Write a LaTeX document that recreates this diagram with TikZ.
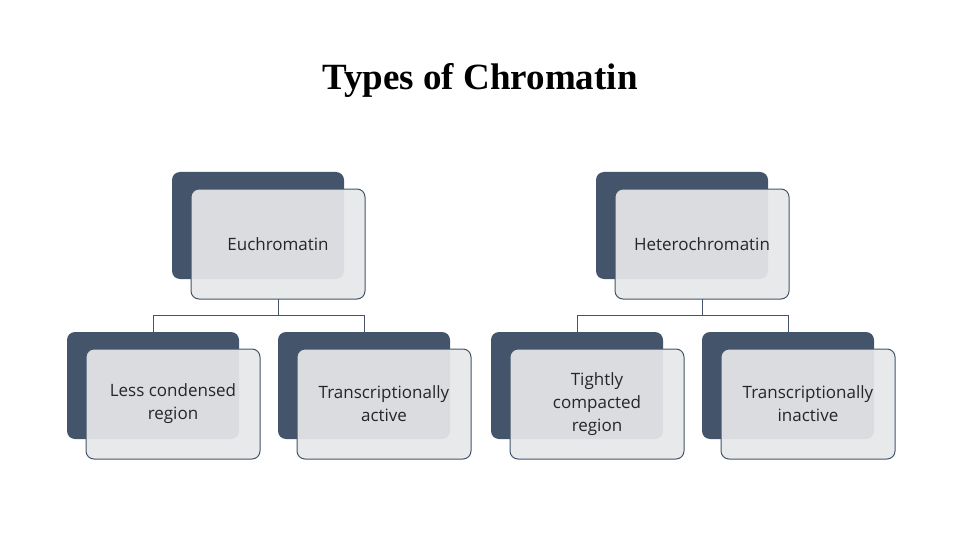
\documentclass[tikz,border=0pt]{standalone}
\usepackage{fontspec}
\setmainfont{Liberation Serif}
\newfontfamily\boxfont{Open Sans}
\definecolor{dk}{HTML}{44546A}
\definecolor{lt}{HTML}{E6E7E9}
\begin{document}
\begin{tikzpicture}[x=1pt,y=-1pt,
 back/.style={fill=dk,rounded corners=8pt},
 front/.style={fill=lt,fill opacity=0.93,draw=dk,line width=1pt,rounded corners=8pt},
 lbl/.style={font=\boxfont\fontsize{17}{23}\selectfont,text=black!85,align=center},
 conn/.style={draw=dk,line width=1pt}]
\useasboundingbox (0,0) rectangle (960,540);
\node[font=\bfseries\fontsize{37}{40}\selectfont] (title) at (480,80) {Types of Chromatin};
\newcommand\cbox[5]{% name, backx, backy, text
 \fill[back] (#2,#3) rectangle ++(172,107);
 \draw[front] (#2+19,#3+17) rectangle ++(174,110);
 \node[lbl] (#1) at (#2+106,#3+72) {#4};
 \coordinate (#1t) at (#2+86,#3);
 \coordinate (#1b) at (#2+106,#3+127);}
\cbox{eu}{172}{172}{Euchromatin}{}
\cbox{he}{596}{172}{Heterochromatin}{}
\cbox{a}{67}{332}{Less condensed\\region}{}
\cbox{b}{278}{332}{Transcriptionally\\active}{}
\cbox{c}{491}{332}{Tightly\\compacted\\region}{}
\cbox{d}{702}{332}{Transcriptionally\\inactive}{}
\draw[conn] (eub) -- ++(0,16) -| (at);
\draw[conn] (eub) ++(0,16) -| (bt);
\draw[conn] (heb) -- ++(0,16) -| (ct);
\draw[conn] (heb) ++(0,16) -| (dt);
\end{tikzpicture}
\end{document}
